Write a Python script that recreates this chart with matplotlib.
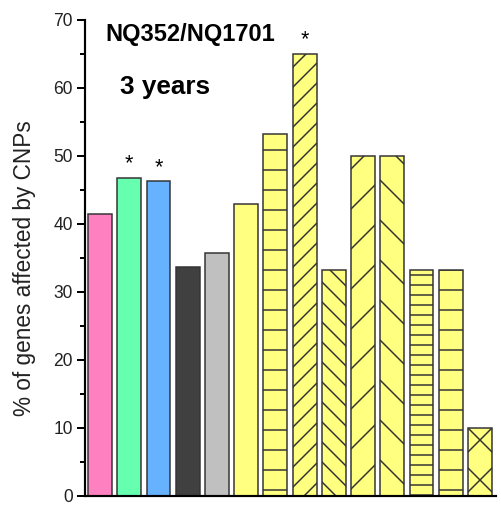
import matplotlib
matplotlib.use("Agg")
import matplotlib.pyplot as plt
from matplotlib.ticker import MultipleLocator

# values (% of genes affected by CNPs)
values = [41.5, 46.8, 46.3, 33.7, 35.7, 42.9, 53.2, 65.0, 33.3, 50.0, 50.0, 33.3, 33.3, 10.0]
colors = ["#FF80C0", "#66FFB0", "#66B2FF", "#404040", "#C0C0C0",
          "#FFFF80", "#FFFF80", "#FFFF80", "#FFFF80", "#FFFF80",
          "#FFFF80", "#FFFF80", "#FFFF80", "#FFFF80"]
hatches = ["", "", "", "", "", "", "-", "//", "\\\\", "/", "\\", "--", "-", "x"]
starred = [1, 2, 7]

plt.rcParams['font.family'] = ['Liberation Sans', 'DejaVu Sans']
plt.rcParams['hatch.linewidth'] = 0.9

fig = plt.figure(figsize=(501 / 120, 506 / 120), dpi=120)
ax = fig.add_axes([0.170, 0.0198, 0.820, 0.9407])

for i, (v, c, h) in enumerate(zip(values, colors, hatches)):
    ax.bar(i, v, width=0.82, color=c, edgecolor="#333333", linewidth=0.9, hatch=h)

for i in starred:
    ax.text(i, values[i] + 0.5, "*", ha="center", va="bottom", fontsize=13)

ax.text(0.17, 67.9, "NQ352/NQ1701", fontsize=14.2, fontweight="bold", va="center")
ax.text(0.68, 60.1, "3 years", fontsize=15.7, fontweight="bold", va="center")

ax.set_xlim(-0.51, 13.55)
ax.set_ylim(0, 70)
ax.yaxis.set_major_locator(MultipleLocator(10))
ax.yaxis.set_minor_locator(MultipleLocator(5))
ax.set_xticks([])
ax.tick_params(axis="y", which="major", direction="out", length=5, width=1.2,
               labelsize=10.5, labelcolor="#222222", pad=2.5)
ax.tick_params(axis="y", which="minor", direction="out", length=3, width=1.2)
ax.set_ylabel("% of genes affected by CNPs", fontsize=13.6, color="#222222")
ax.yaxis.set_label_coords(-0.12, 0.479)

for s in ["top", "right"]:
    ax.spines[s].set_visible(False)
for s in ["left", "bottom"]:
    ax.spines[s].set_linewidth(1.3)

fig.savefig("out.png", dpi=120)
